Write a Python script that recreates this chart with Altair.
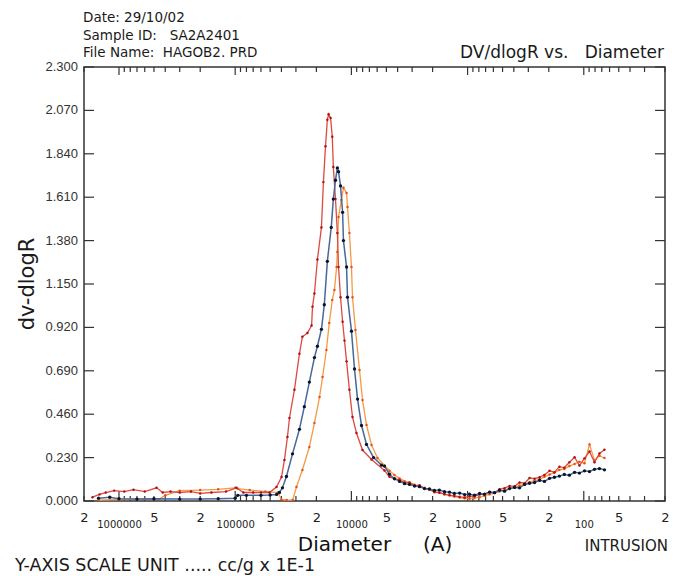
import altair as alt
import pandas as pd

# ---------------- text ----------------
HEADER = ["Date: 29/10/02", "Sample ID:\u00a0\u00a0\u00a0SA2A2401", "File Name:\u00a0\u00a0HAGOB2. PRD"]
CHART_TITLE = "DV/dlogR vs.\u00a0\u00a0\u00a0Diameter"
X_TITLE = "Diameter\u00a0\u00a0\u00a0\u00a0\u00a0(A)"
Y_TITLE = "dv-dlogR"
FOOTER_RIGHT = "INTRUSION"
FOOTER_LEFT = "Y-AXIS SCALE UNIT ..... cc/g x 1E-1"

# ---------------- axes ----------------
X_DOMAIN = [20, 2000000]
Y_DOMAIN = [0, 2.3]
Y_TICKS = [0.0, 0.23, 0.46, 0.69, 0.92, 1.15, 1.38, 1.61, 1.84, 2.07, 2.3]
DIGIT_TICKS = [2000000, 500000, 200000, 50000, 20000, 5000, 2000, 500, 200, 50, 20]
DECADE_TICKS = [1000000, 100000, 10000, 1000, 100]
MINOR_TICKS = [m * 10 ** e for e in range(1, 7) for m in range(2, 10)
               if 20 <= m * 10 ** e <= 2000000]

# ---------------- data (diameter in A, dV/dlogR) ----------------
RED_D = [1.69e6, 1.47e6, 1.30e6, 1.10e6, 9.0e5, 7.5e5, 6.0e5, 4.75e5, 4.2e5, 3.6e5,
         3.0e5, 2.4e5, 2.0e5, 1.6e5, 1.2e5, 9.75e4, 8.5e4, 7.0e4, 6.0e4, 5.07e4,
         4.41e4, 3.99e4, 3.77e4, 3.55e4, 3.41e4, 3.09e4, 2.80e4, 2.64e4, 2.39e4, 2.20e4,
         2.16e4, 2.08e4, 1.96e4, 1.81e4, 1.74e4, 1.67e4, 1.61e4, 1.57e4, 1.51e4, 1.46e4,
         1.43e4, 1.37e4, 1.32e4, 1.29e4, 1.24e4, 1.19e4, 1.146e4, 1.10e4, 1.04e4, 9.78e3,
         9.04e3, 8.02e3, 6.71e3]
RED_V = [0.02, 0.035, 0.045, 0.055, 0.05, 0.06, 0.05, 0.07, 0.045, 0.05,
         0.045, 0.05, 0.04, 0.045, 0.05, 0.07, 0.045, 0.045, 0.045, 0.045,
         0.074, 0.127, 0.217, 0.339, 0.44, 0.59, 0.78, 0.87, 0.89, 0.93,
         1.03, 1.10, 1.28, 1.45, 1.69, 1.88, 2.02, 2.05, 2.03, 1.93,
         1.77, 1.60, 1.42, 1.24, 1.08, 0.95, 0.85, 0.74, 0.59, 0.445,
         0.36, 0.27, 0.22]

BLUE_D = [1.5e6, 1.2e6, 1.0e6, 7.0e5, 5.0e5, 3.0e5, 2.0e5, 1.4e5, 1.0e5, 9.5e4,
          8.0e4, 6.0e4, 5.0e4, 4.4e4, 4.16e4, 3.92e4, 3.62e4, 3.21e4, 2.80e4, 2.54e4,
          2.30e4, 2.08e4, 1.96e4, 1.81e4, 1.71e4, 1.61e4, 1.49e4, 1.43e4, 1.37e4, 1.32e4,
          1.29e4, 1.24e4, 1.19e4, 1.17e4, 1.10e4, 1.08e4, 9.98e3, 9.40e3, 8.85e3, 8.18e3,
          7.41e3, 6.44e3, 5.51e3]
BLUE_V = [0.015, 0.02, 0.012, 0.01, 0.012, 0.01, 0.01, 0.012, 0.015, 0.03,
          0.03, 0.03, 0.032, 0.035, 0.045, 0.07, 0.13, 0.25, 0.38, 0.50,
          0.63, 0.76, 0.82, 0.91, 1.04, 1.27, 1.45, 1.60, 1.70, 1.765,
          1.745, 1.67, 1.53, 1.38, 1.24, 1.08, 0.90, 0.70, 0.54, 0.40,
          0.30, 0.23, 0.19]

ORANGE_D = [1.5e6, 1.0e6, 6.0e5, 4.5e5, 4.0e5, 3.0e5, 2.0e5, 1.4e5, 1.0e5, 9.5e4,
            7.5e4, 5.5e4, 4.3e4, 4.0e4, 3.6e4, 3.2e4, 2.97e4, 2.64e4, 2.30e4, 2.08e4,
            1.88e4, 1.77e4, 1.64e4, 1.55e4, 1.46e4, 1.40e4, 1.34e4, 1.32e4, 1.29e4, 1.22e4,
            1.17e4, 1.10e4, 1.08e4, 1.04e4, 9.98e3, 9.78e3, 9.22e3, 8.51e3, 8.02e3, 7.41e3,
            6.71e3, 5.96e3]
ORANGE_V = [0.005, 0.008, 0.01, 0.01, 0.03, 0.055, 0.058, 0.062, 0.07, 0.065,
            0.058, 0.05, 0.045, 0.008, 0.005, 0.005, 0.074, 0.164, 0.286, 0.413,
            0.551, 0.657, 0.80, 0.943, 1.065, 1.118, 1.24, 1.32, 1.505, 1.595,
            1.66, 1.632, 1.558, 1.42, 1.24, 1.08, 0.906, 0.694, 0.535, 0.403,
            0.297, 0.228]

TAIL_D = [5190, 4700, 4260, 3850, 3490, 3160, 2860, 2590, 2350, 2130,
          1930, 1750, 1580, 1430, 1300, 1170, 1060, 962, 871, 789,
          715, 647, 586, 531, 481, 435, 394, 357, 323, 293,
          265, 240, 218, 197, 179, 162, 147, 133, 120, 109,
          98.6, 89.3, 80.9, 73.3, 66.4]
RED_TAIL_V = [0.162, 0.128, 0.118, 0.112, 0.096, 0.098, 0.082, 0.084, 0.066, 0.062,
              0.046, 0.044, 0.036, 0.030, 0.027, 0.022, 0.019, 0.024, 0.026, 0.034,
              0.036, 0.048, 0.044, 0.062, 0.068, 0.080, 0.078, 0.098, 0.094, 0.122,
              0.118, 0.126, 0.138, 0.160, 0.152, 0.182, 0.176, 0.205, 0.232, 0.188,
              0.226, 0.262, 0.205, 0.252, 0.272]
BLUE_TAIL_V = [0.185, 0.142, 0.118, 0.104, 0.092, 0.088, 0.079, 0.076, 0.066, 0.064,
               0.056, 0.058, 0.049, 0.047, 0.040, 0.042, 0.034, 0.036, 0.031, 0.040,
               0.036, 0.047, 0.044, 0.058, 0.052, 0.066, 0.072, 0.070, 0.088, 0.094,
               0.098, 0.110, 0.104, 0.120, 0.126, 0.132, 0.141, 0.137, 0.152, 0.148,
               0.160, 0.156, 0.168, 0.172, 0.165]
ORANGE_TAIL_V = [0.188, 0.160, 0.138, 0.120, 0.105, 0.098, 0.086, 0.078, 0.070, 0.060,
                 0.052, 0.045, 0.036, 0.030, 0.024, 0.018, 0.014, 0.012, 0.016, 0.020,
                 0.028, 0.035, 0.042, 0.050, 0.058, 0.066, 0.072, 0.082, 0.090, 0.100,
                 0.108, 0.115, 0.128, 0.140, 0.150, 0.165, 0.170, 0.185, 0.196, 0.208,
                 0.200, 0.300, 0.215, 0.240, 0.228]

W, H = 581, 434

xs = alt.Scale(type="log", domain=X_DOMAIN, reverse=True, nice=False)
ys = alt.Scale(domain=Y_DOMAIN, nice=False, zero=False)

ax_digits = alt.Axis(orient="bottom", values=DIGIT_TICKS,
                     labelExpr="slice(toString(datum.value), 0, 1)",
                     ticks=False, domain=False, grid=False, labelFlush=False,
                     labelOverlap=False, labelPadding=10, labelFontSize=13,
                     labelFont="DejaVu Sans", labelColor="#222",
                     title=X_TITLE, titleFontSize=20, titleFont="DejaVu Sans",
                     titleFontWeight="normal", titleColor="#111",
                     titleY=43, titleBaseline="middle")
ax_decades = alt.Axis(orient="bottom", values=DECADE_TICKS, format="d",
                      ticks=False, domain=False, grid=False, labelFlush=False,
                      labelOverlap=False, labelPadding=18, labelFontSize=10,
                      labelFont="DejaVu Sans", labelColor="#222", title=None)


def series(d, v):
    return pd.DataFrame({"d": d, "v": v})


def curve(df, line_color, dot_color, dot_size, width=1.3, xaxis=None):
    line = alt.Chart(df).mark_line(color=line_color, strokeWidth=width).encode(
        x=alt.X("d:Q", scale=xs, axis=xaxis),
        y=alt.Y("v:Q", scale=ys, axis=None))
    dots = alt.Chart(df).mark_circle(color=dot_color, size=dot_size, opacity=1).encode(
        x=alt.X("d:Q", scale=xs, axis=None),
        y=alt.Y("v:Q", scale=ys, axis=None))
    return [line, dots]


red = series(RED_D + TAIL_D, RED_V + RED_TAIL_V)
blue = series(BLUE_D + TAIL_D, BLUE_V + BLUE_TAIL_V)
orange = series(ORANGE_D + TAIL_D, ORANGE_V + ORANGE_TAIL_V)

TICK = "#333"


def xticks(vals, y1, y2, axis=None):
    return alt.Chart(pd.DataFrame({"d": vals})).mark_rule(color=TICK, strokeWidth=1.2).encode(
        x=alt.X("d:Q", scale=xs, axis=axis), y=alt.value(y1), y2=alt.value(y2))


ytick_df = pd.DataFrame({"v": Y_TICKS})


def yticks(x1, x2):
    return alt.Chart(ytick_df).mark_rule(color=TICK, strokeWidth=1.2).encode(
        y=alt.Y("v:Q", scale=ys, axis=None), x=alt.value(x1), x2=alt.value(x2))


ylabels = alt.Chart(ytick_df).mark_text(
    align="right", baseline="middle", fontSize=13, font="Liberation Sans", color="#333"
).encode(y=alt.Y("v:Q", scale=ys, axis=None), x=alt.value(-6),
         text=alt.Text("v:Q", format=".3f"))


def note(text, x, y, size, align="left", angle=0):
    return alt.Chart(pd.DataFrame({"t": [text]})).mark_text(
        align=align, baseline="middle", fontSize=size, font="DejaVu Sans",
        color="#1a1a1a", angle=angle
    ).encode(text="t:N", x=alt.value(x), y=alt.value(y))


layers = []
layers += [yticks(0, 10), yticks(W - 10, W), ylabels,
           xticks(DECADE_TICKS, H, H - 10, axis=ax_decades), xticks(MINOR_TICKS, H, H - 5),
           xticks(DECADE_TICKS, 0, 8), xticks(MINOR_TICKS, 0, 5)]
layers += curve(orange, "#f39a45", "#e8501a", 6)
layers += curve(red, "#dd4a40", "#b01010", 6, xaxis=ax_digits)
layers += curve(blue, "#46689a", "#0a1428", 11, width=1.5)
layers += [note(HEADER[0], -1, -49, 13.5), note(HEADER[1], -1, -31, 13.5),
           note(HEADER[2], -1, -14, 13.5),
           note(CHART_TITLE, 580, -14, 17, align="right"),
           note(Y_TITLE, -56, 217, 21, align="center", angle=270),
           note(FOOTER_RIGHT, 584, 479, 15, align="right"),
           note(FOOTER_LEFT, -69, 499, 17.5)]

chart = alt.layer(*layers).resolve_axis(x="independent").properties(
    width=W, height=H,
    padding={"left": 84, "top": 67, "right": 8, "bottom": 75},
    autosize=alt.AutoSizeParams(type="none"),
    background="white",
).configure_view(stroke="#333", strokeWidth=1.5)

chart.save("out.html", embed_options={"renderer": "svg", "actions": False})
